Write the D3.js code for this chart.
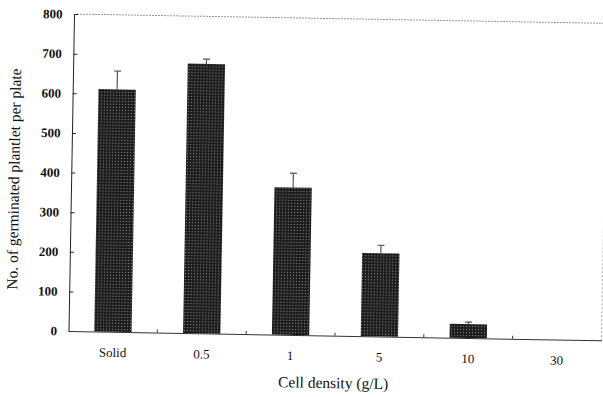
<!DOCTYPE html>
<html>
<head>
<meta charset="utf-8">
<script src="https://cdn.jsdelivr.net/npm/d3@7/dist/d3.min.js"></script>
<style>
  html, body { margin: 0; padding: 0; background: #fff; }
  svg { display: block; }
  text { font-family: "Liberation Serif", "DejaVu Serif", serif; fill: #111; }
</style>
</head>
<body>
<svg id="chart" width="603" height="397"></svg>
<script>
// ---- data ----
const categories = ["Solid", "0.5", "1", "5", "10", "30"];
const values = [612, 680, 372, 210, 35, 0];
const errors = [46, 12, 36, 20, 5, 0];
const yTicks = [0, 100, 200, 300, 400, 500, 600, 700, 800];
const xTitle = "Cell density (g/L)";
const yTitle = "No. of germinated plantlet per plate";

const svg = d3.select("#chart");
const defs = svg.append("defs");
const pat = defs.append("pattern")
  .attr("id", "hatch").attr("patternUnits", "userSpaceOnUse")
  .attr("width", 3).attr("height", 3);
pat.append("rect").attr("width", 3).attr("height", 3).attr("fill", "#1e1e1e");
pat.append("rect").attr("x", 1).attr("y", 1).attr("width", 1).attr("height", 1).attr("fill", "#8a8a8a");

const x0 = 68.5, x1 = 601.5, yBase = 331, yTop = 14;
const g = svg.append("g").attr("transform", `rotate(1, ${x0}, ${yBase})`);

const x = d3.scaleBand().domain(categories).range([x0, x1])
  .paddingInner(0.58).paddingOuter(0.29);
const y = d3.scaleLinear().domain([0, 800]).range([yBase, yTop]);

// plot border (dotted top and right)
g.append("line").attr("x1", x0 + 3).attr("x2", x1).attr("y1", y(800)).attr("y2", y(800))
  .attr("stroke", "#999").attr("stroke-width", 1).attr("stroke-dasharray", "2,1");
g.append("line").attr("x1", x1).attr("x2", x1).attr("y1", y(800)).attr("y2", y(0))
  .attr("stroke", "#aaa").attr("stroke-width", 1).attr("stroke-dasharray", "2,2");

// y axis
const yAxis = d3.axisLeft(y).tickValues(yTicks).tickSizeInner(-4).tickSizeOuter(0).tickPadding(12);
const ya = g.append("g").attr("transform", `translate(${x0},0)`).call(yAxis);
ya.select(".domain").attr("stroke", "#222");
ya.selectAll(".tick line").attr("stroke", "#222");
ya.selectAll(".tick text").attr("font-size", 13).attr("font-family", "Liberation Serif")
  .attr("fill", "#111").attr("font-weight", "bold").attr("x", -11.5);

// x axis
const xAxis = d3.axisBottom(x).tickSize(0).tickPadding(16);
const xa = g.append("g").attr("transform", `translate(0,${yBase})`).call(xAxis);
xa.select(".domain").attr("stroke", "#333");
xa.selectAll(".tick text").attr("font-size", 13).attr("font-family", "Liberation Serif")
  .attr("fill", "#111");
// small inward ticks at category boundaries
const bounds = categories.slice(1).map(c => x(c) - x.step() * x.paddingInner() / 2);
g.selectAll(".btick").data(bounds).enter().append("line")
  .attr("x1", d => d).attr("x2", d => d).attr("y1", yBase).attr("y2", yBase - 3)
  .attr("stroke", "#333");

// bars
g.selectAll(".bar").data(values).enter().append("rect")
  .attr("x", (d, i) => x(categories[i]))
  .attr("y", d => y(d))
  .attr("width", x.bandwidth())
  .attr("height", d => yBase - y(d))
  .attr("fill", "url(#hatch)");

// error bars (upper only)
const eb = g.selectAll(".err").data(values.map((v, i) => ({ v, e: errors[i], c: categories[i] })).filter(d => d.e > 0))
  .enter().append("g");
eb.append("line")
  .attr("x1", d => x(d.c) + x.bandwidth() / 2).attr("x2", d => x(d.c) + x.bandwidth() / 2)
  .attr("y1", d => y(d.v)).attr("y2", d => y(d.v + d.e))
  .attr("stroke", "#555").attr("stroke-width", 1.2);
eb.append("line")
  .attr("x1", d => x(d.c) + x.bandwidth() / 2 - 3.5).attr("x2", d => x(d.c) + x.bandwidth() / 2 + 3.5)
  .attr("y1", d => y(d.v + d.e)).attr("y2", d => y(d.v + d.e))
  .attr("stroke", "#555").attr("stroke-width", 1.2);

// titles
g.append("text").attr("x", 334).attr("y", 378).attr("text-anchor", "middle")
  .attr("dominant-baseline", "central").attr("font-size", 15.5).text(xTitle);
g.append("text").attr("transform", "translate(11,180) rotate(-90)")
  .attr("text-anchor", "middle").attr("dominant-baseline", "central")
  .attr("font-size", 15.5).text(yTitle);
</script>
</body>
</html>
